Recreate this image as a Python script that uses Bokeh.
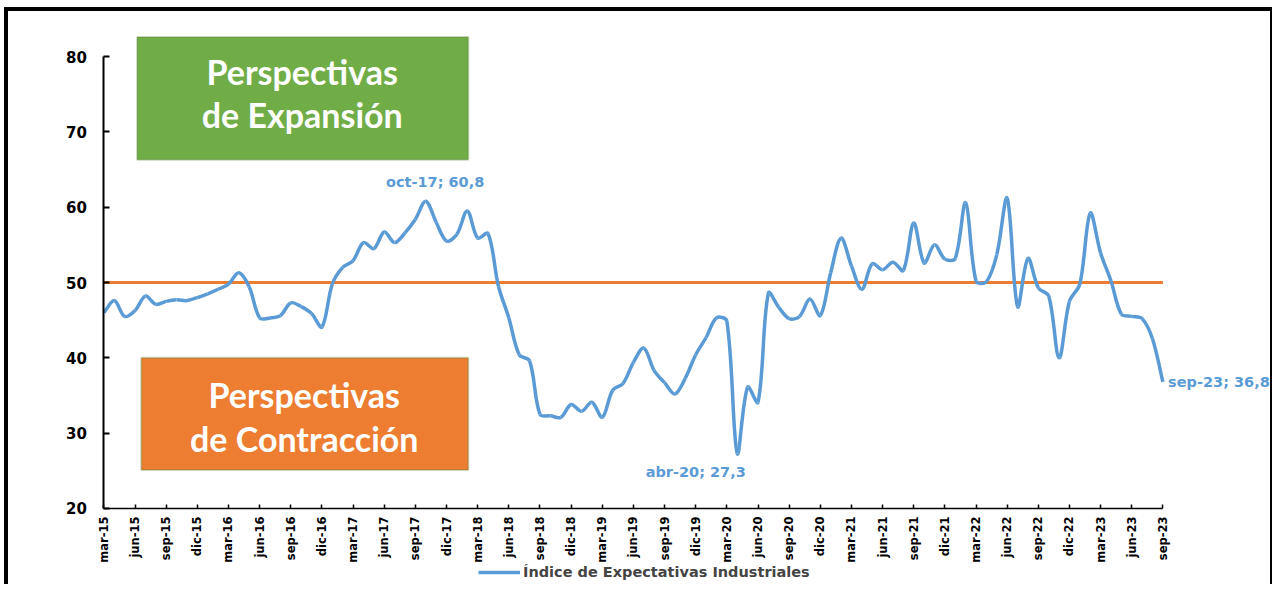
import numpy as np
from bokeh.plotting import figure
from bokeh.models import (Range1d, FixedTicker, BoxAnnotation, Label,
                          Legend, LegendItem)
from bokeh.embed import file_html
from bokeh.resources import INLINE

# ---------------- data ----------------
MESES = ["ene", "feb", "mar", "abr", "may", "jun",
         "jul", "ago", "sep", "oct", "nov", "dic"]
first_year, first_month = 2015, 3   # mar-15
n_months = 103                      # mar-15 .. sep-23

values = [
    46.0, 47.6, 45.5, 46.3, 48.2, 47.1, 47.5, 47.7, 47.6, 48.0,   # mar-15..dic-15
    48.5, 49.1, 49.8, 51.3, 49.4, 45.3, 45.3, 45.6, 47.3, 46.8,   # ene-16..oct-16
    45.9, 44.1, 49.8, 52.0, 52.9, 55.3, 54.5, 56.7, 55.3, 56.6,   # nov-16..ago-17
    58.4, 60.8, 58.0, 55.5, 56.4, 59.5, 55.9, 56.5, 49.5, 45.3,   # sep-17..jun-18
    40.4, 39.6, 32.5, 32.3, 32.1, 33.8, 32.9, 34.1, 32.1, 35.7,   # jul-18..abr-19
    36.6, 39.4, 41.3, 38.3, 36.7, 35.2, 37.3, 40.4, 42.7, 45.3,   # may-19..feb-20
    44.9, 27.3, 36.1, 34.1, 48.6, 46.7, 45.2, 45.5, 47.8, 45.6,   # mar-20..dic-20
    51.3, 55.9, 52.2, 49.1, 52.5, 51.7, 52.7, 51.6, 57.9, 52.6,   # ene-21..oct-21
    55.0, 53.1, 53.2, 60.6, 50.2, 50.1, 53.7, 61.2, 46.8, 53.2,   # nov-21..ago-22
    49.3, 48.2, 40.0, 47.5, 49.8, 59.2, 53.9, 50.2, 45.8, 45.5,   # sep-22..jun-23
    45.2, 42.5, 36.8,                                             # jul-23..sep-23
]
threshold = 50
series_name = "Índice de Expectativas Industriales"

month_labels = []
for k in range(n_months):
    m = (first_month - 1 + k) % 12
    yy = first_year + (first_month - 1 + k) // 12
    month_labels.append(f"{MESES[m]}-{yy % 100:02d}")

tick_idx = list(range(0, n_months, 3))
y_ticks = [20, 30, 40, 50, 60, 70, 80]

annotations = [  # (month label, value text)
    ("oct-17", "60,8"),
    ("abr-20", "27,3"),
    ("sep-23", "36,8"),
]

# ---------------- smoothed line (Excel-like bezier) ----------------
PX_X, PX_Y = 10.333, 7.533         # approx. pixel size of one unit (for smoothing)
x = np.arange(n_months, dtype=float)
y = np.array(values, dtype=float)
xprev = np.concatenate([[x[0]], x[:-1]]); yprev = np.concatenate([[y[0]], y[:-1]])
xnext = np.concatenate([x[1:], [x[-1]]]); ynext = np.concatenate([y[1:], [y[-1]]])
d01 = np.hypot((x - xprev) * PX_X, (y - yprev) * PX_Y)
d12 = np.hypot((xnext - x) * PX_X, (ynext - y) * PX_Y)
tot = d01 + d12
tx = (xnext - xprev) / 3.0
ty = (ynext - yprev) / 3.0
cin_x = x - tx * d01 / tot
cin_y = y - ty * d01 / tot
cout_x = x + tx * d12 / tot
cout_y = y + ty * d12 / tot
x0, y0, x1, y1 = x[:-1], y[:-1], x[1:], y[1:]
cx0, cy0 = cout_x[:-1], cout_y[:-1]
cx1, cy1 = cin_x[1:], cin_y[1:]

# ---------------- figure ----------------
BLUE = "#5B9BD5"
ORANGE = "#ED7D31"
GREEN = "#70AD47"
DARKGREEN = "#507E32"
FONT = "DejaVu Sans"

# the frame covers the whole canvas; axes are drawn at fixed data locations
x_start, x_end = -9.19, (n_months - 1) + 10.94
y_start, y_end = 9.38, 82.79

p = figure(width=1268, height=577, output_backend="svg", toolbar_location=None,
           x_range=Range1d(x_start, x_end), y_range=Range1d(y_start, y_end),
           min_border_left=0, min_border_right=0,
           min_border_top=24, min_border_bottom=0)
p.styles = {"border-left": "4px solid black", "border-top": "4px solid black",
            "border-right": "2px solid black", "margin-left": "4px",
            "margin-top": "7px"}
p.outline_line_color = None
p.xgrid.visible = False
p.ygrid.visible = False
p.background_fill_color = "white"
p.border_fill_color = "white"

# axes
p.yaxis.fixed_location = 0
p.yaxis.ticker = FixedTicker(ticks=y_ticks)
p.yaxis.bounds = (20, 80)
p.yaxis.major_tick_in = 6
p.yaxis.major_tick_out = 0
p.yaxis.minor_tick_line_color = None
p.yaxis.axis_line_width = 2
p.yaxis.axis_line_color = "black"
p.yaxis.major_tick_line_width = 2
p.yaxis.major_label_standoff = 17
p.yaxis.major_label_text_font = FONT
p.yaxis.major_label_text_font_style = "bold"
p.yaxis.major_label_text_font_size = "15px"
p.yaxis.major_label_text_color = "black"

p.xaxis.fixed_location = 20
p.xaxis.ticker = FixedTicker(ticks=tick_idx)
p.xaxis.bounds = (0, n_months - 1)
p.xaxis.major_label_overrides = {i: month_labels[i] for i in tick_idx}
p.xaxis.major_label_orientation = np.pi / 2
p.xaxis.major_tick_in = 4
p.xaxis.major_tick_out = 0
p.xaxis.minor_tick_line_color = None
p.xaxis.axis_line_width = 1.5
p.xaxis.axis_line_color = "black"
p.xaxis.major_tick_line_width = 1.5
p.xaxis.major_label_standoff = 8
p.xaxis.major_label_text_font = FONT
p.xaxis.major_label_text_font_style = "bold"
p.xaxis.major_label_text_font_size = "11.5px"
p.xaxis.major_label_text_color = "black"

# boxes with text
p.add_layout(BoxAnnotation(left=3.2, right=35.1, top=82.6, bottom=66.3,
                           fill_color=GREEN, fill_alpha=1.0,
                           line_color=DARKGREEN, line_width=2))
p.add_layout(BoxAnnotation(left=3.6, right=35.1, top=40.0, bottom=25.1,
                           fill_color=ORANGE, fill_alpha=1.0,
                           line_color=DARKGREEN, line_width=2))
box_texts = [("Perspectivas", 19.1, 78.0), ("de Expansión", 19.1, 72.3),
             ("Perspectivas", 19.3, 35.1), ("de Contracción", 19.3, 29.3)]
for t, bx, by in box_texts:
    p.add_layout(Label(x=bx, y=by, text=t, text_align="center",
                       text_baseline="middle", text_color="white",
                       text_font="Lato", text_font_style="bold",
                       text_font_size="34px"))

# threshold line (from first to last month)
p.line(x=[x[0], x[-1]], y=[threshold, threshold], line_color=ORANGE,
       line_width=3)

# series
bez = p.bezier(x0=x0, y0=y0, x1=x1, y1=y1, cx0=cx0, cy0=cy0, cx1=cx1, cy1=cy1,
               line_color=BLUE, line_width=3.5)

# data labels
label_pos = {"oct-17": (0.9, 2.6, "center"), "abr-20": (-4.0, -2.5, "center"),
             "sep-23": (0.5, 0.0, "left")}
for lab, txt in annotations:
    i = month_labels.index(lab)
    dx, dy, al = label_pos[lab]
    p.add_layout(Label(x=i + dx, y=values[i] + dy, text=f"{lab}; {txt}",
                       text_align=al, text_baseline="middle",
                       text_color=BLUE, text_font=FONT,
                       text_font_style="bold", text_font_size="14.5px"))

legend = Legend(items=[LegendItem(label=series_name, renderers=[bez])],
                location=(470, 8), orientation="horizontal",
                border_line_alpha=0, background_fill_alpha=0,
                glyph_width=42, glyph_height=12, label_height=12,
                label_standoff=3, padding=0, margin=0,
                label_text_font=FONT, label_text_font_style="bold",
                label_text_font_size="14.5px")
p.add_layout(legend)

open("out.html", "w").write(file_html(p, INLINE))
